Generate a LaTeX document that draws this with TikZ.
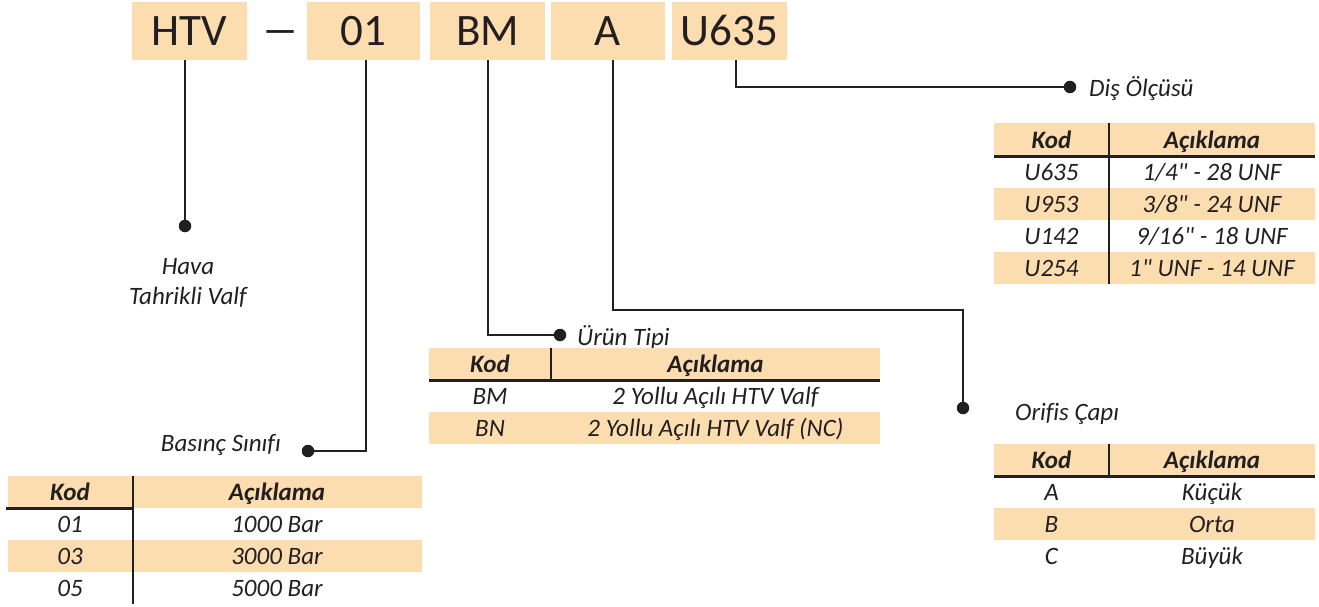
\documentclass[tikz,border=0pt]{standalone}
\usepackage{fontspec}
\setmainfont{Carlito}[Ligatures={TeXOff,CommonOff}]
\definecolor{peach}{RGB}{252,221,176}
\definecolor{ink}{RGB}{35,31,32}
\begin{document}
\begin{tikzpicture}[x=1pt,y=-1pt,
  topbox/.style={fill=peach, minimum width=115pt, minimum height=58pt, inner sep=0pt, font=\fontsize{45}{50}\selectfont, text=ink, text height=29pt, text depth=0pt},
  conn/.style={draw=ink, line width=1.3pt},
  dot/.style={circle, fill=ink, inner sep=0pt, minimum size=12.5pt},
  lbl/.style={font=\fontsize{25}{29}\selectfont\itshape, text=ink, inner sep=0pt, text height=16pt, text depth=0pt},
  cell/.style={font=\fontsize{25}{29}\selectfont\itshape, text=ink, inner sep=0pt, text height=16pt, text depth=0pt},
  head/.style={cell, font=\fontsize{25}{29}\selectfont\bfseries\itshape},
  rowfill/.style={fill=peach},
  thick rule/.style={draw=ink, line width=3pt},
  divider/.style={draw=ink, line width=2.5pt}
]
\useasboundingbox (0,0) rectangle (1319,607);

% ---- code boxes
\node[topbox] (htv) at (189.5,31) {HTV};
\node[font=\fontsize{45}{50}\selectfont, text=ink, xscale=1.7] (dash) at (281,38) {–};
\node[topbox, minimum width=113pt] (v01) at (363.5,31) {01};
\node[topbox] (bm) at (487.5,31) {BM};
\node[topbox, minimum width=114pt] (va) at (608,31) {A};
\node[topbox] (u635) at (729.5,31) {U635};

% ---- dots and corners
\node[dot] (d1) at (185,226) {};
\node[dot] (d2) at (308,451) {};
\node[dot] (d3) at (560,335) {};
\node[dot] (d4) at (963,408) {};
\node[dot] (d5) at (1070,87) {};
\coordinate (c2) at (366,451);
\coordinate (c3) at (488,335);
\coordinate (c4a) at (613,310);
\coordinate (c4b) at (963,310);
\coordinate (c5) at (736,87);

\draw[conn] (htv.south -| d1) -- (d1.center);
\draw[conn] (v01.south -| c2) -- (c2) -- (d2.center);
\draw[conn] (bm.south -| c3) -- (c3) -- (d3.center);
\draw[conn] (va.south -| c4a) -- (c4a) -- (c4b) -- (d4.center);
\draw[conn] (u635.south -| c5) -- (c5) -- (d5.center);

% ---- labels
\node[lbl] (hava) at (188,266) {Hava};
\node[lbl] (tahrik) at (188,296) {Tahrikli Valf};
\node[lbl, anchor=east] (basinc) at (281,443) {Basınç Sınıfı};
\node[lbl, anchor=west] (urun) at (577,337.5) {Ürün Tipi};
\node[lbl, anchor=west] (orifis) at (1015,412) {Orifis Çapı};
\node[lbl, anchor=west] (dis) at (1089,89) {Diş Ölçüsü};

% ---- table: Diş Ölçüsü
\fill[rowfill] (994,123) rectangle (1315,156);
\fill[rowfill] (994,188) rectangle (1315,220);
\fill[rowfill] (994,252) rectangle (1315,284);
\draw[thick rule] (994,156) -- (1315,156);
\draw[divider] (1109,123) -- (1109,284);
\node[head] (t1h1) at (1051.5,140) {Kod};
\node[head] (t1h2) at (1212,140) {Açıklama};
\node[cell] (t1a1) at (1051.5,172) {U635};
\node[cell] (t1b1) at (1212,172) {1/4" - 28 UNF};
\node[cell] (t1a2) at (1051.5,204) {U953};
\node[cell] (t1b2) at (1212,204) {3/8" - 24 UNF};
\node[cell] (t1a3) at (1051.5,236) {U142};
\node[cell] (t1b3) at (1212,236) {9/16" - 18 UNF};
\node[cell] (t1a4) at (1051.5,268) {U254};
\node[cell] (t1b4) at (1212,268) {1" UNF - 14 UNF};

% ---- table: Ürün Tipi
\fill[rowfill] (429,348) rectangle (880,380);
\fill[rowfill] (429,412) rectangle (880,444);
\draw[thick rule] (429,380) -- (880,380);
\draw[divider] (551,348) -- (551,380);
\node[head] (t2h1) at (490,364) {Kod};
\node[head] (t2h2) at (715.5,364) {Açıklama};
\node[cell] (t2a1) at (490,396) {BM};
\node[cell] (t2b1) at (715.5,396) {2 Yollu Açılı HTV Valf};
\node[cell] (t2a2) at (490,428) {BN};
\node[cell] (t2b2) at (715.5,428) {2 Yollu Açılı HTV Valf (NC)};

% ---- table: Basınç Sınıfı
\fill[rowfill] (8,476) rectangle (422,508);
\fill[rowfill] (8,540) rectangle (422,572);
\draw[thick rule] (6,508) -- (133,508);
\draw[divider] (133,476) -- (133,604);
\node[head] (t3h1) at (70,492) {Kod};
\node[head] (t3h2) at (277,492) {Açıklama};
\node[cell] (t3a1) at (70,524) {01};
\node[cell] (t3b1) at (277,524) {1000 Bar};
\node[cell] (t3a2) at (70,556) {03};
\node[cell] (t3b2) at (277,556) {3000 Bar};
\node[cell] (t3a3) at (70,588) {05};
\node[cell] (t3b3) at (277,588) {5000 Bar};

% ---- table: Orifis Çapı
\fill[rowfill] (994,444) rectangle (1315,476);
\fill[rowfill] (994,508) rectangle (1315,540);
\draw[thick rule] (994,476) -- (1315,476);
\draw[divider] (1109,444) -- (1109,476);
\node[head] (t4h1) at (1051.5,460) {Kod};
\node[head] (t4h2) at (1212,460) {Açıklama};
\node[cell] (t4a1) at (1051.5,492) {A};
\node[cell] (t4b1) at (1212,492) {Küçük};
\node[cell] (t4a2) at (1051.5,524) {B};
\node[cell] (t4b2) at (1212,524) {Orta};
\node[cell] (t4a3) at (1051.5,556) {C};
\node[cell] (t4b3) at (1212,556) {Büyük};
\end{tikzpicture}
\end{document}
